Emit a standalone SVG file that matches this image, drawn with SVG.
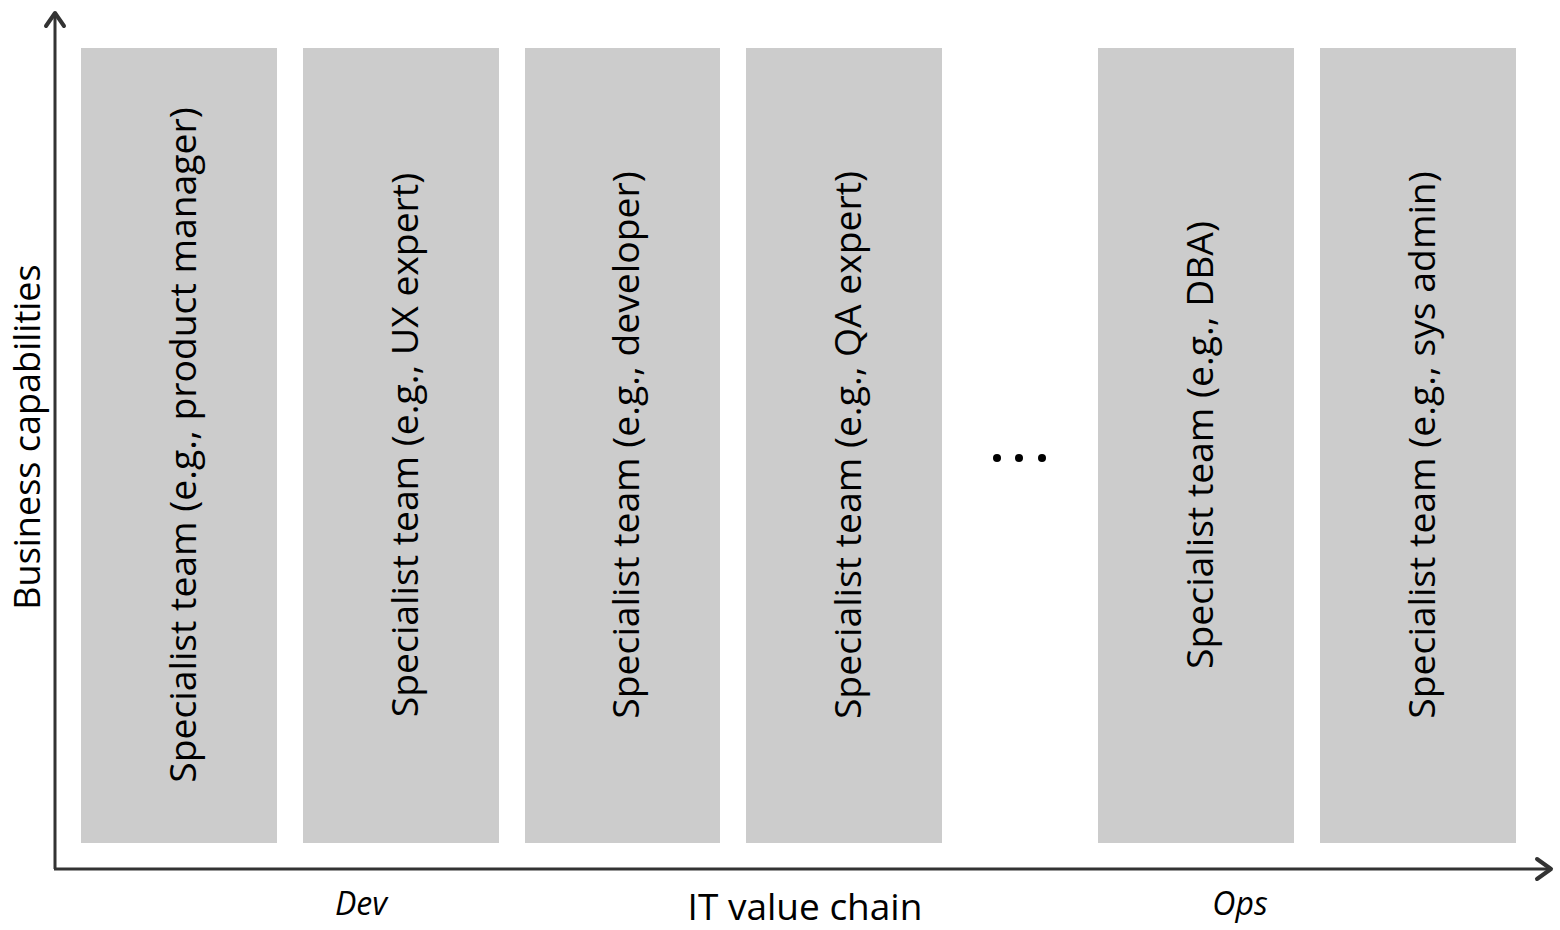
<svg xmlns="http://www.w3.org/2000/svg" width="1560" height="930" viewBox="0 0 1560 930">
<style>
.col{fill:#cccccc}
.t{font-family:"Open Sans","Noto Sans",sans-serif;font-size:37.3px;fill:#000;text-anchor:middle}
.ax{stroke:#333;stroke-width:3;fill:none}
.ah{stroke:#333;stroke-width:4;fill:none;stroke-linecap:round;stroke-linejoin:round}
.lab{font-family:"Open Sans","Noto Sans",sans-serif;fill:#000}
</style>
<rect width="1560" height="930" fill="#fff"/>
<g id="axes">
<line class="ax" x1="55" y1="14" x2="55" y2="869"/>
<line class="ax" x1="54" y1="869" x2="1550" y2="869"/>
<polyline class="ah" points="46,26 55,13 64,26"/>
<polyline class="ah" points="1537,859 1551,869 1537,879"/>
</g>
<g id="n1"><rect class="col" x="81" y="48" width="196" height="795"/><text class="t" transform="translate(196,445) rotate(-90)">Specialist team (e.g., product manager)</text></g>
<g id="n2"><rect class="col" x="303" y="48" width="196" height="795"/><text class="t" transform="translate(418,445) rotate(-90)">Specialist team (e.g., UX expert)</text></g>
<g id="n3"><rect class="col" x="525" y="48" width="195" height="795"/><text class="t" transform="translate(639,445) rotate(-90)">Specialist team (e.g., developer)</text></g>
<g id="n4"><rect class="col" x="746" y="48" width="196" height="795"/><text class="t" transform="translate(861,445) rotate(-90)">Specialist team (e.g., QA expert)</text></g>
<g id="n5"><rect class="col" x="1098" y="48" width="196" height="795"/><text class="t" transform="translate(1213,445) rotate(-90)">Specialist team (e.g., DBA)</text></g>
<g id="n6"><rect class="col" x="1320" y="48" width="196" height="795"/><text class="t" transform="translate(1435,445) rotate(-90)">Specialist team (e.g., sys admin)</text></g>
<g id="ellipsis"><circle cx="997" cy="458" r="4"/><circle cx="1019" cy="458" r="4"/><circle cx="1042" cy="458" r="4"/></g>
<g id="labels">
<text class="lab" font-size="36" text-anchor="middle" transform="translate(40,437) rotate(-90)">Business capabilities</text>
<text class="lab" font-size="37" x="805" y="920" text-anchor="middle">IT value chain</text>
<text class="lab" font-size="32" font-style="italic" x="361" y="915" text-anchor="middle">Dev</text>
<text class="lab" font-size="32" font-style="italic" x="1240" y="915" text-anchor="middle">Ops</text>
</g>
</svg>
